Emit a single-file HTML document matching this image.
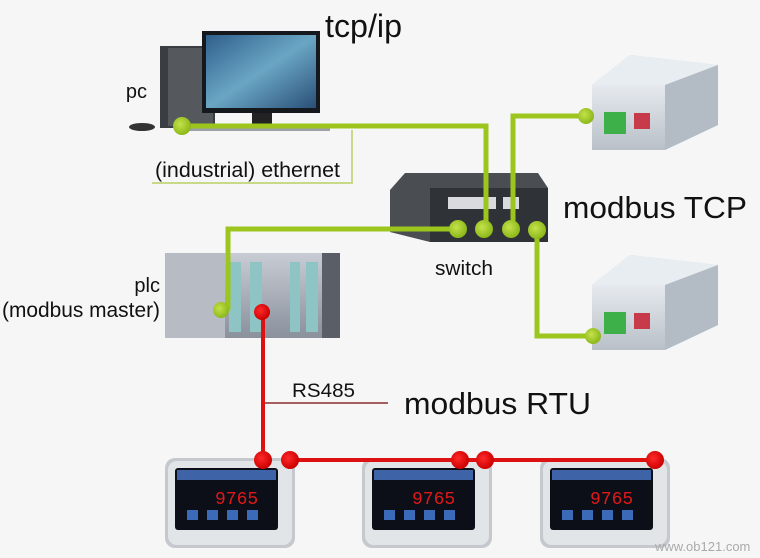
<!DOCTYPE html>
<html><head><meta charset="utf-8"><style>
html,body{margin:0;padding:0;background:#f6f6f6;}
svg{display:block;font-family:"Liberation Sans",sans-serif;}
</style></head><body>
<svg width="760" height="558" viewBox="0 0 760 558" xmlns="http://www.w3.org/2000/svg">
<defs>
<linearGradient id="scr" x1="0" y1="0" x2="1" y2="1"><stop offset="0" stop-color="#2f5f8c"/><stop offset="0.5" stop-color="#6aa6c4"/><stop offset="1" stop-color="#2a4f78"/></linearGradient>
<linearGradient id="gry" x1="0" y1="0" x2="0" y2="1"><stop offset="0" stop-color="#e6eaef"/><stop offset="1" stop-color="#b9c0c8"/></linearGradient>
<linearGradient id="plc" x1="0" y1="0" x2="0" y2="1"><stop offset="0" stop-color="#c8ccd4"/><stop offset="1" stop-color="#8a909c"/></linearGradient>
<radialGradient id="gd" cx="0.4" cy="0.4" r="0.6"><stop offset="0" stop-color="#c4e24a"/><stop offset="1" stop-color="#8cb81a"/></radialGradient>
<radialGradient id="rd" cx="0.4" cy="0.4" r="0.6"><stop offset="0" stop-color="#ff2a2a"/><stop offset="1" stop-color="#cc0000"/></radialGradient>
<g id="meter">
<rect x="0" y="0" width="130" height="90" rx="10" fill="#c5c9ce"/>
<rect x="3" y="3" width="124" height="84" rx="9" fill="#e2e5e8"/>
<rect x="10" y="10" width="103" height="62" rx="3" fill="#0c0f18"/>
<rect x="12" y="12" width="99" height="10" fill="#3e63a6"/>
<text x="50" y="46" font-size="18" fill="#e01818" font-family="Liberation Mono,monospace">9765</text>
<rect x="22" y="52" width="11" height="10" fill="#3a6ab8"/>
<rect x="42" y="52" width="11" height="10" fill="#3a6ab8"/>
<rect x="62" y="52" width="11" height="10" fill="#3a6ab8"/>
<rect x="82" y="52" width="11" height="10" fill="#3a6ab8"/>
</g>
<g id="box">
<path d="M2 30 L40 0 L128 10 L128 70 L75 95 L2 95 Z" fill="#c9d1d8"/>
<path d="M2 30 L40 0 L128 10 L75 30 Z" fill="#e8edf1"/>
<path d="M75 30 L128 10 L128 70 L75 95 Z" fill="#b3bcc5"/>
<rect x="2" y="30" width="73" height="65" fill="url(#gry)"/>
<rect x="14" y="57" width="22" height="22" fill="#3db04a"/>
<rect x="44" y="58" width="16" height="16" fill="#c73a4a"/>
</g>
</defs>
<rect width="760" height="558" fill="#f6f6f6"/>

<!-- PC -->
<ellipse cx="142" cy="127" rx="13" ry="4" fill="#333"/>
<rect x="160" y="46" width="55" height="82" fill="#3a3d42"/>
<rect x="168" y="48" width="45" height="78" fill="#55595e"/>
<rect x="202" y="31" width="118" height="82" fill="#15181c"/>
<rect x="206" y="35" width="110" height="73" fill="url(#scr)"/>
<rect x="252" y="113" width="20" height="13" fill="#222"/>
<rect x="175" y="126" width="155" height="5" fill="#9aa0a6"/>

<!-- Switch -->
<path d="M390 190 L405 173 L538 173 L548 188 L548 242 L430 242 L390 232 Z" fill="#4a4d52"/>
<rect x="430" y="188" width="118" height="54" fill="#2f3236"/>
<rect x="448" y="197" width="48" height="12" fill="#d8dadd"/>
<rect x="503" y="197" width="16" height="12" fill="#d8dadd"/>

<!-- boxes -->
<use href="#box" x="590" y="55"/>
<use href="#box" x="590" y="255"/>

<!-- PLC -->
<rect x="165" y="253" width="175" height="85" fill="url(#plc)"/>
<rect x="165" y="253" width="60" height="85" fill="#b6bbc4"/>
<rect x="229" y="262" width="12" height="70" fill="#8fc4c4"/>
<rect x="250" y="262" width="12" height="70" fill="#8fc4c4"/>
<rect x="290" y="262" width="10" height="70" fill="#8fc4c4"/>
<rect x="306" y="262" width="12" height="70" fill="#8fc4c4"/>
<rect x="322" y="253" width="18" height="85" fill="#5a5e66"/>

<!-- green lines -->
<g stroke="#9cc61e" stroke-width="5" fill="none">
<polyline points="182,126 486,126 486,229"/>
<polyline points="513,229 513,116 586,116"/>
<polyline points="458,229 228,229 228,310"/>
<polyline points="537,230 537,336 593,336"/>
</g>
<g fill="url(#gd)">
<circle cx="182" cy="126" r="9"/><circle cx="458" cy="229" r="9"/><circle cx="484" cy="229" r="9"/>
<circle cx="511" cy="229" r="9"/><circle cx="537" cy="230" r="9"/><circle cx="586" cy="116" r="8"/>
<circle cx="593" cy="336" r="8"/><circle cx="221" cy="310" r="8"/>
</g>

<!-- label lines -->
<polyline points="352,130 352,183 152,183" stroke="#c9d98a" stroke-width="2" fill="none"/>
<line x1="263" y1="403" x2="388" y2="403" stroke="#8a2a2a" stroke-width="1.5"/>

<!-- meters -->
<use href="#meter" x="165" y="458"/>
<use href="#meter" x="362" y="458"/>
<use href="#meter" x="540" y="458"/>

<!-- red lines -->
<g stroke="#dd1111" stroke-width="4" fill="none">
<polyline points="263,312 263,460"/>
<line x1="290" y1="460" x2="655" y2="460"/>
</g>
<g fill="url(#rd)">
<circle cx="262" cy="312" r="8"/><circle cx="263" cy="460" r="9"/><circle cx="290" cy="460" r="9"/>
<circle cx="460" cy="460" r="9"/><circle cx="485" cy="460" r="9"/><circle cx="655" cy="460" r="9"/>
</g>

<!-- text -->
<g fill="#111">
<text x="325" y="37" font-size="32" textLength="77" lengthAdjust="spacingAndGlyphs">tcp/ip</text>
<text x="147" y="98" font-size="20" text-anchor="end">pc</text>
<text x="155" y="177" font-size="21" textLength="185" lengthAdjust="spacingAndGlyphs">(industrial) ethernet</text>
<text x="563" y="218" font-size="31" textLength="184" lengthAdjust="spacingAndGlyphs">modbus TCP</text>
<text x="435" y="275" font-size="20" textLength="58" lengthAdjust="spacingAndGlyphs">switch</text>
<text x="160" y="292" font-size="20" text-anchor="end">plc</text>
<text x="2" y="317" font-size="21" textLength="158" lengthAdjust="spacingAndGlyphs">(modbus master)</text>
<text x="292" y="397" font-size="19" textLength="63" lengthAdjust="spacingAndGlyphs">RS485</text>
<text x="404" y="414" font-size="31" textLength="187" lengthAdjust="spacingAndGlyphs">modbus RTU</text>
</g>
<text x="655" y="551" font-size="13" fill="#aaa">www.ob121.com</text>
</svg>
</body></html>
